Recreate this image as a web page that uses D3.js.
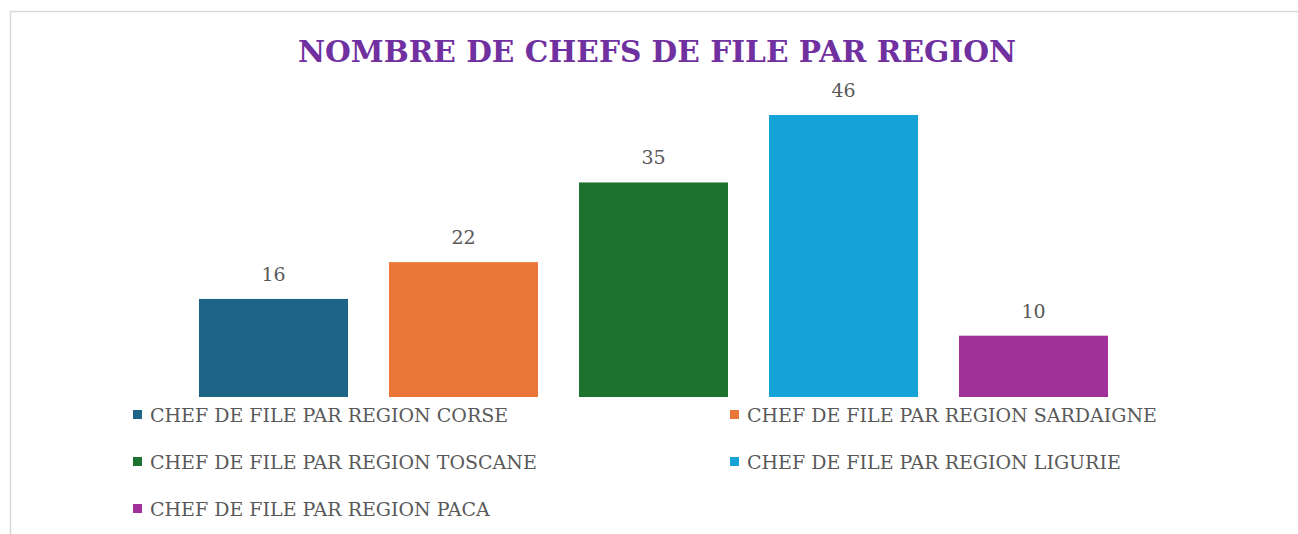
<!DOCTYPE html>
<meta charset="utf-8">
<title>Nombre de chefs de file par region</title>
<style>
  body { margin: 0; background: #fff; }
  .label { font-family: "DejaVu Serif", serif; fill: #595959; font-size: 19px; }
  .legend text { font-family: "DejaVu Serif", serif; fill: #595959; font-size: 19px; }
  .title { font-family: "DejaVu Serif", serif; font-weight: bold; fill: #7030a0; font-size: 30px; }
</style>
<body>
<svg width="1298" height="534"></svg>
<script src="https://d3js.org/d3.v7.min.js"></script>
<script>
  // data
  var regions = ["CORSE", "SARDAIGNE", "TOSCANE", "LIGURIE", "PACA"];
  var counts = [16, 22, 35, 46, 10];
  var colors = ["#1c6587", "#ea7738", "#1e7230", "#15a3d7", "#a2309a"];
  var legendPrefix = "CHEF DE FILE PAR REGION ";

  var svg = d3.select("svg");

  // chart frame (only top and left edge show in the shot)
  svg.append("rect")
    .attr("x", 10.5).attr("y", 11.5)
    .attr("width", 1300).attr("height", 540)
    .attr("fill", "none")
    .attr("stroke", "#d9d9d9")
    .attr("stroke-width", 1.5);

  var title = svg.append("text")
    .attr("class", "title")
    .attr("x", 657).attr("y", 62)
    .attr("text-anchor", "middle")
    .text("NOMBRE DE CHEFS DE FILE PAR REGION");
  // squeeze the title to the width seen in the picture
  title.attr("textLength", 718).attr("lengthAdjust", "spacingAndGlyphs");

  var x = d3.scaleBand()
    .domain(regions)
    .range([178.5, 1128.5])
    .paddingInner(41 / 190)
    .paddingOuter(20.5 / 190);

  var y = d3.scaleLinear()
    .domain([0, 50])
    .range([397, 90.5]);

  svg.selectAll(".bar")
    .data(regions)
    .enter().append("rect")
    .attr("class", "bar")
    .attr("x", d => x(d))
    .attr("width", x.bandwidth())
    .attr("y", (d, i) => y(counts[i]))
    .attr("height", (d, i) => y(0) - y(counts[i]))
    .attr("fill", (d, i) => colors[i]);

  svg.selectAll(".label")
    .data(regions)
    .enter().append("text")
    .attr("class", "label")
    .attr("x", d => x(d) + x.bandwidth() / 2)
    .attr("y", (d, i) => y(counts[i]) - 18)
    .attr("text-anchor", "middle")
    .text((d, i) => counts[i]);

  // legend, two columns
  var legend = svg.append("g").attr("class", "legend");
  var item = legend.selectAll("g")
    .data(regions)
    .enter().append("g")
    .attr("transform", (d, i) => "translate(" + (i % 2 ? 730 : 133) + "," + (415 + Math.floor(i / 2) * 47) + ")");

  item.append("rect")
    .attr("x", 0).attr("y", -5)
    .attr("width", 9).attr("height", 9)
    .attr("fill", (d, i) => colors[i]);

  item.append("text")
    .attr("x", 17).attr("y", 7)
    .text(d => legendPrefix + d);
</script>
</body>
